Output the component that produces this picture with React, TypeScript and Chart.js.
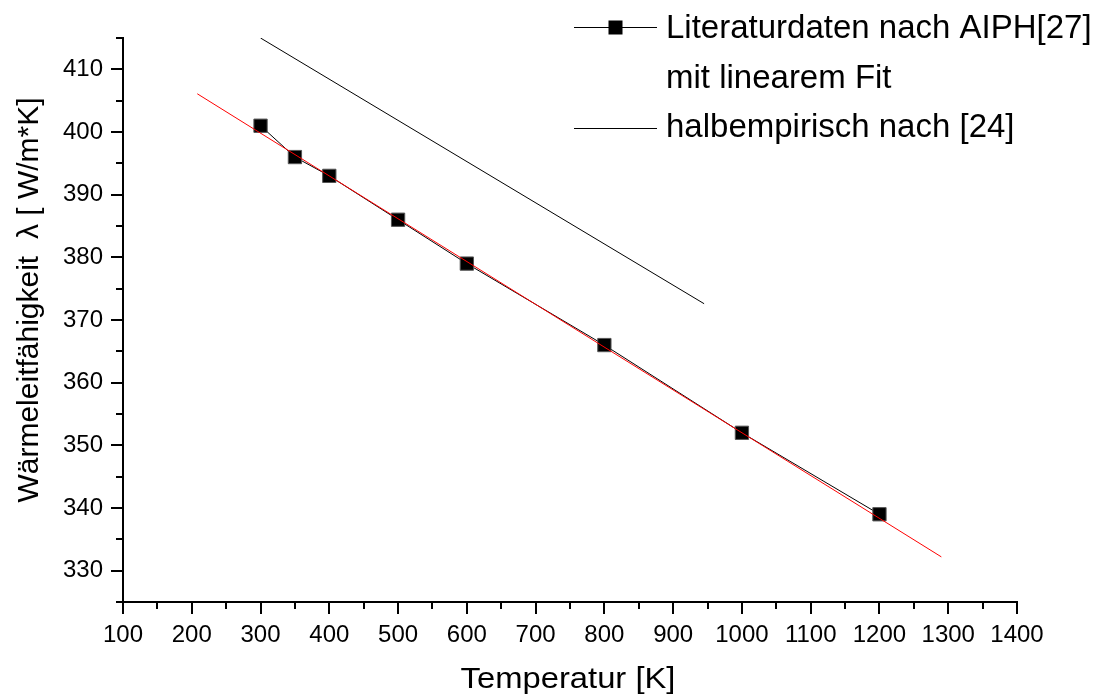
import { useEffect, useRef } from "react";
import { Chart, registerables } from "chart.js";

Chart.register(...registerables);

// Literature values (AIPH) for thermal conductivity vs. temperature
const temperatures = [300, 350, 400, 500, 600, 800, 1000, 1200];
const conductivity = [401, 396, 393, 386, 379, 366, 352, 339];

// Linear fit through the literature values (end points of the drawn segment)
const fitTemperatures = [208, 1290];
const fitConductivity = [406.1, 332.2];

// Semi-empirical model after [24]
const semiTemperatures = [300, 945];
const semiConductivity = [415, 372.6];

const xTickValues = [100, 200, 300, 400, 500, 600, 700, 800, 900, 1000, 1100, 1200, 1300, 1400];
const yTickValues = [330, 340, 350, 360, 370, 380, 390, 400, 410];

const legendLines = [
  "Literaturdaten nach AIPH[27]",
  "mit linearem Fit",
  "halbempirisch nach [24]",
];

const xTitle = "Temperatur [K]";
const yTitle = "Wärmeleitfähigkeit  λ [ W/m*K]";

const FONT = "'Liberation Sans', Arial, Helvetica, sans-serif";

const toPoints = (xs: number[], ys: number[]) => xs.map((x, i) => ({ x, y: ys[i] }));

// Draws major/minor tick marks, axis titles and the legend box
const decorations = {
  id: "decorations",
  afterDraw(chart: any) {
    const { ctx, chartArea, scales } = chart;
    const xs = scales.x;
    const ys = scales.y;
    ctx.save();
    ctx.strokeStyle = "#000";
    ctx.fillStyle = "#000";
    ctx.lineWidth = 2;

    // x ticks: major every 100, minor every 50
    for (let v = xs.min; v <= xs.max + 1e-6; v += 50) {
      const px = Math.round(xs.getPixelForValue(v));
      const len = v % 100 === 0 ? 12 : 7;
      ctx.beginPath();
      ctx.moveTo(px, chartArea.bottom);
      ctx.lineTo(px, chartArea.bottom + len);
      ctx.stroke();
    }
    // y ticks: major every 10, minor every 5
    for (let v = ys.min; v <= ys.max + 1e-6; v += 5) {
      const py = Math.round(ys.getPixelForValue(v));
      const len = v % 10 === 0 ? 12 : 7;
      ctx.beginPath();
      ctx.moveTo(chartArea.left, py);
      ctx.lineTo(chartArea.left - len, py);
      ctx.stroke();
    }

    // x axis title
    ctx.textBaseline = "alphabetic";
    ctx.textAlign = "center";
    ctx.font = `29px ${FONT}`;
    ctx.save();
    ctx.translate((chartArea.left + chartArea.right) / 2 - 2, 688);
    ctx.scale(1.13, 1);
    ctx.fillText(xTitle, 0, 0);
    ctx.restore();

    // y axis title
    ctx.font = `30px ${FONT}`;
    ctx.save();
    ctx.translate(38, 300);
    ctx.rotate(-Math.PI / 2);
    ctx.fillText(yTitle, 0, 0);
    ctx.restore();

    // legend
    ctx.lineWidth = 1;
    ctx.font = `33px ${FONT}`;
    ctx.textAlign = "left";
    const lx0 = 574;
    const lx1 = 657;
    const tx = 666;
    const lineRows = [27.5, 128.5];
    const baselines = [37.5, 87.5, 136.5];
    ctx.beginPath();
    ctx.moveTo(lx0, lineRows[0]);
    ctx.lineTo(lx1, lineRows[0]);
    ctx.stroke();
    ctx.fillRect((lx0 + lx1) / 2 - 7, lineRows[0] - 7, 14, 14);
    ctx.beginPath();
    ctx.moveTo(lx0, lineRows[1]);
    ctx.lineTo(lx1, lineRows[1]);
    ctx.stroke();
    legendLines.forEach((text, i) => ctx.fillText(text, tx, baselines[i]));

    ctx.restore();
  },
};

export default function App() {
  const canvasRef = useRef<HTMLCanvasElement | null>(null);

  useEffect(() => {
    if (!canvasRef.current) return;
    const axisCommon = {
      type: "linear" as const,
      grid: {
        display: true,
        drawOnChartArea: false,
        drawTicks: true,
        tickLength: 12,
        color: "rgba(0,0,0,0)",
      },
      border: { display: true, color: "#000", width: 2 },
    };
    const chart = new Chart(canvasRef.current, {
      type: "line",
      data: {
        datasets: [
          {
            label: "Linearer Fit",
            data: toPoints(fitTemperatures, fitConductivity),
            borderColor: "#ff0000",
            borderWidth: 1,
            pointRadius: 0,
            order: 0,
          },
          {
            label: legendLines[0],
            data: toPoints(temperatures, conductivity),
            borderColor: "#000",
            borderWidth: 1,
            pointStyle: "rect",
            pointRadius: 9.4,
            pointBackgroundColor: "#000",
            pointBorderColor: "#555",
            pointBorderWidth: 1,
            order: 1,
          },
          {
            label: legendLines[2],
            data: toPoints(semiTemperatures, semiConductivity),
            borderColor: "#000",
            borderWidth: 1,
            pointRadius: 0,
            order: 2,
          },
        ],
      },
      options: {
        animation: false,
        responsive: true,
        maintainAspectRatio: false,
        layout: { padding: { top: 38, right: 82, left: 0, bottom: 0 } },
        plugins: {
          legend: { display: false },
          tooltip: { enabled: false },
        },
        scales: {
          x: {
            ...axisCommon,
            min: 100,
            max: 1400,
            afterFit: (scale: any) => {
              scale.height = 96;
            },
            afterBuildTicks: (scale: any) => {
              scale.ticks = xTickValues.map((value) => ({ value }));
            },
            ticks: {
              color: "#000",
              font: { family: FONT, size: 24 },
              padding: 7,
              maxRotation: 0,
              autoSkip: false,
              callback: (value: any) => String(value),
            },
          },
          y: {
            ...axisCommon,
            min: 325,
            max: 415,
            afterFit: (scale: any) => {
              scale.width = 123;
            },
            afterBuildTicks: (scale: any) => {
              scale.ticks = yTickValues.map((value) => ({ value }));
            },
            ticks: {
              color: "#000",
              font: { family: FONT, size: 24 },
              padding: 8,
              autoSkip: false,
              callback: (value: any) => String(value),
            },
          },
        },
      },
      plugins: [decorations],
    });
    return () => chart.destroy();
  }, []);

  return (
    <div style={{ position: "absolute", left: 0, top: 0, width: 1099, height: 698, background: "#fff" }}>
      <canvas ref={canvasRef} />
    </div>
  );
}
